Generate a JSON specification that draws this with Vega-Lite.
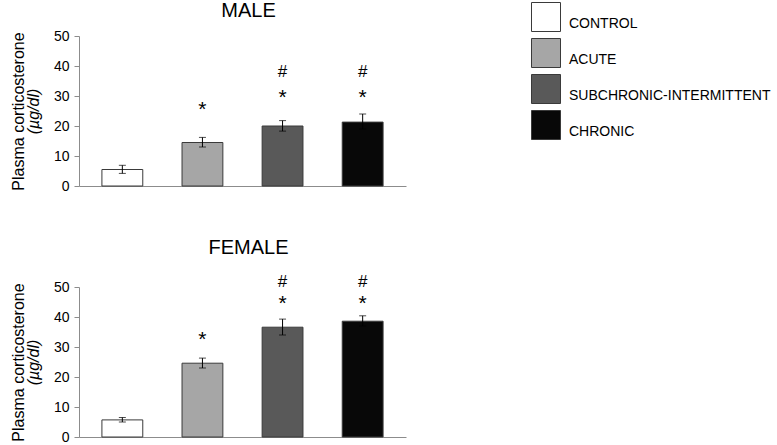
{
  "$schema": "https://vega.github.io/schema/vega-lite/v6.json",
  "padding": {"left": 10, "top": 1, "right": 5, "bottom": 5},
  "background": "white",
  "config": {
    "view": {"stroke": null},
    "font": "Liberation Sans",
    "axis": {"grid": false, "domainColor": "#8c8c8c", "tickColor": "#8c8c8c", "labelColor": "black", "titleColor": "black", "labelFont": "Liberation Sans", "titleFont": "Liberation Sans"},
    "legend": {"labelFont": "Liberation Sans"}
  },
  "datasets": {
    "bars": [
      {"sex": "MALE", "group": "CONTROL", "mean": 5.5, "lo": 4.2, "hi": 6.9},
      {"sex": "MALE", "group": "ACUTE", "mean": 14.5, "lo": 13.0, "hi": 16.2},
      {"sex": "MALE", "group": "SUBCHRONIC-INTERMITTENT", "mean": 20.0, "lo": 18.3, "hi": 21.8},
      {"sex": "MALE", "group": "CHRONIC", "mean": 21.3, "lo": 19.0, "hi": 24.0},
      {"sex": "FEMALE", "group": "CONTROL", "mean": 5.7, "lo": 5.0, "hi": 6.5},
      {"sex": "FEMALE", "group": "ACUTE", "mean": 24.6, "lo": 23.0, "hi": 26.3},
      {"sex": "FEMALE", "group": "SUBCHRONIC-INTERMITTENT", "mean": 36.6, "lo": 34.0, "hi": 39.3},
      {"sex": "FEMALE", "group": "CHRONIC", "mean": 38.6, "lo": 37.0, "hi": 40.4}
    ],
    "marks": [
      {"sex": "MALE", "group": "ACUTE", "sym": "*", "pos": 25.4},
      {"sex": "MALE", "group": "SUBCHRONIC-INTERMITTENT", "sym": "*", "pos": 29.4},
      {"sex": "MALE", "group": "SUBCHRONIC-INTERMITTENT", "sym": "#", "pos": 38.1},
      {"sex": "MALE", "group": "CHRONIC", "sym": "*", "pos": 29.4},
      {"sex": "MALE", "group": "CHRONIC", "sym": "#", "pos": 38.1},
      {"sex": "FEMALE", "group": "ACUTE", "sym": "*", "pos": 32.4},
      {"sex": "FEMALE", "group": "SUBCHRONIC-INTERMITTENT", "sym": "*", "pos": 44.4},
      {"sex": "FEMALE", "group": "SUBCHRONIC-INTERMITTENT", "sym": "#", "pos": 51.6},
      {"sex": "FEMALE", "group": "CHRONIC", "sym": "*", "pos": 44.4},
      {"sex": "FEMALE", "group": "CHRONIC", "sym": "#", "pos": 51.6}
    ]
  },
  "spacing": 45,
  "vconcat": [
    {
      "title": {"text": "MALE", "fontSize": 20, "fontWeight": "normal", "font": "Liberation Sans", "anchor": "middle", "dx": 6, "offset": 8},
      "width": 327,
      "height": 150,
      "layer": [
        {
          "data": {"name": "bars"},
          "transform": [{"filter": "datum.sex === 'MALE'"}],
          "mark": {"type": "bar", "stroke": "#3a3a3a", "strokeWidth": 1},
          "encoding": {
            "x": {"field": "group", "type": "nominal", "sort": ["CONTROL", "ACUTE", "SUBCHRONIC-INTERMITTENT", "CHRONIC"], "scale": {"paddingInner": 0.49, "paddingOuter": 0.286}, "axis": {"labels": false, "ticks": false, "title": null}},
            "y": {"field": "mean", "type": "quantitative", "scale": {"domain": [0, 50]}, "axis": {"orient": "left", "values": [0, 10, 20, 30, 40, 50], "title": "(µg/dl)", "titleFontStyle": "italic", "titleFontWeight": "normal", "titleFontSize": 16, "labelFontSize": 14, "tickSize": 5, "labelPadding": 5, "titlePadding": 12}},
            "color": {"field": "group", "type": "nominal", "scale": {"domain": ["CONTROL", "ACUTE", "SUBCHRONIC-INTERMITTENT", "CHRONIC"], "range": ["#ffffff", "#a6a6a6", "#595959", "#080808"]}, "legend": {"title": null, "orient": "none", "legendX": 452, "legendY": -34, "padding": 0, "symbolType": "square", "symbolSize": 841, "symbolStrokeColor": "#3a3a3a", "symbolStrokeWidth": 1, "labelFontSize": 14, "labelColor": "black", "labelLimit": 300, "labelBaseline": "top", "labelOffset": 8, "rowPadding": 2}}
          }
        },
        {
          "data": {"name": "bars"},
          "transform": [{"filter": "datum.sex === 'MALE'"}],
          "mark": {"type": "errorbar", "ticks": {"size": 7, "color": "black"}, "rule": {"color": "black"}},
          "encoding": {
            "x": {"field": "group", "type": "nominal", "sort": ["CONTROL", "ACUTE", "SUBCHRONIC-INTERMITTENT", "CHRONIC"]},
            "y": {"field": "lo", "type": "quantitative", "scale": {"domain": [0, 50]}, "axis": null},
            "y2": {"field": "hi"}
          }
        },
        {
          "data": {"name": "marks"},
          "transform": [{"filter": "datum.sex === 'MALE'"}],
          "mark": {"type": "text", "color": "black", "baseline": "middle"},
          "encoding": {
            "x": {"field": "group", "type": "nominal", "sort": ["CONTROL", "ACUTE", "SUBCHRONIC-INTERMITTENT", "CHRONIC"]},
            "y": {"field": "pos", "type": "quantitative", "scale": {"domain": [0, 50]}, "axis": null},
            "size": {"field": "sym", "type": "ordinal", "scale": {"domain": ["*", "#"], "range": [21, 17]}, "legend": null},
            "text": {"field": "sym"}
          }
        },
        {
          "data": {"name": "bars"},
          "transform": [{"filter": "datum.sex === 'MALE'"}],
          "mark": {"type": "rule", "opacity": 0},
          "encoding": {
            "y": {"field": "mean", "type": "quantitative", "scale": {"domain": [0, 50]}, "axis": {"orient": "left", "labels": false, "ticks": false, "domain": false, "title": "Plasma corticosterone", "titleFontSize": 16, "titleFontWeight": "normal", "offset": 53, "titlePadding": 0}}
          }
        }
      ],
      "resolve": {"scale": {"y": "independent", "size": "independent"}, "axis": {"y": "independent"}}
    },
    {
      "title": {"text": "FEMALE", "fontSize": 20, "fontWeight": "normal", "font": "Liberation Sans", "anchor": "middle", "dx": 6, "offset": 15},
      "width": 327,
      "height": 150,
      "layer": [
        {
          "data": {"name": "bars"},
          "transform": [{"filter": "datum.sex === 'FEMALE'"}],
          "mark": {"type": "bar", "stroke": "#3a3a3a", "strokeWidth": 1},
          "encoding": {
            "x": {"field": "group", "type": "nominal", "sort": ["CONTROL", "ACUTE", "SUBCHRONIC-INTERMITTENT", "CHRONIC"], "scale": {"paddingInner": 0.49, "paddingOuter": 0.286}, "axis": {"labels": false, "ticks": false, "title": null}},
            "y": {"field": "mean", "type": "quantitative", "scale": {"domain": [0, 50]}, "axis": {"orient": "left", "values": [0, 10, 20, 30, 40, 50], "title": "(µg/dl)", "titleFontStyle": "italic", "titleFontWeight": "normal", "titleFontSize": 16, "labelFontSize": 14, "tickSize": 5, "labelPadding": 5, "titlePadding": 12}},
            "color": {"field": "group", "type": "nominal", "scale": {"domain": ["CONTROL", "ACUTE", "SUBCHRONIC-INTERMITTENT", "CHRONIC"], "range": ["#ffffff", "#a6a6a6", "#595959", "#080808"]}}
          }
        },
        {
          "data": {"name": "bars"},
          "transform": [{"filter": "datum.sex === 'FEMALE'"}],
          "mark": {"type": "errorbar", "ticks": {"size": 7, "color": "black"}, "rule": {"color": "black"}},
          "encoding": {
            "x": {"field": "group", "type": "nominal", "sort": ["CONTROL", "ACUTE", "SUBCHRONIC-INTERMITTENT", "CHRONIC"]},
            "y": {"field": "lo", "type": "quantitative", "scale": {"domain": [0, 50]}, "axis": null},
            "y2": {"field": "hi"}
          }
        },
        {
          "data": {"name": "marks"},
          "transform": [{"filter": "datum.sex === 'FEMALE'"}],
          "mark": {"type": "text", "color": "black", "baseline": "middle"},
          "encoding": {
            "x": {"field": "group", "type": "nominal", "sort": ["CONTROL", "ACUTE", "SUBCHRONIC-INTERMITTENT", "CHRONIC"]},
            "y": {"field": "pos", "type": "quantitative", "scale": {"domain": [0, 50]}, "axis": null},
            "size": {"field": "sym", "type": "ordinal", "scale": {"domain": ["*", "#"], "range": [21, 17]}, "legend": null},
            "text": {"field": "sym"}
          }
        },
        {
          "data": {"name": "bars"},
          "transform": [{"filter": "datum.sex === 'FEMALE'"}],
          "mark": {"type": "rule", "opacity": 0},
          "encoding": {
            "y": {"field": "mean", "type": "quantitative", "scale": {"domain": [0, 50]}, "axis": {"orient": "left", "labels": false, "ticks": false, "domain": false, "title": "Plasma corticosterone", "titleFontSize": 16, "titleFontWeight": "normal", "offset": 53, "titlePadding": 0}}
          }
        }
      ],
      "resolve": {"scale": {"y": "independent", "size": "independent"}, "axis": {"y": "independent"}}
    }
  ]
}
